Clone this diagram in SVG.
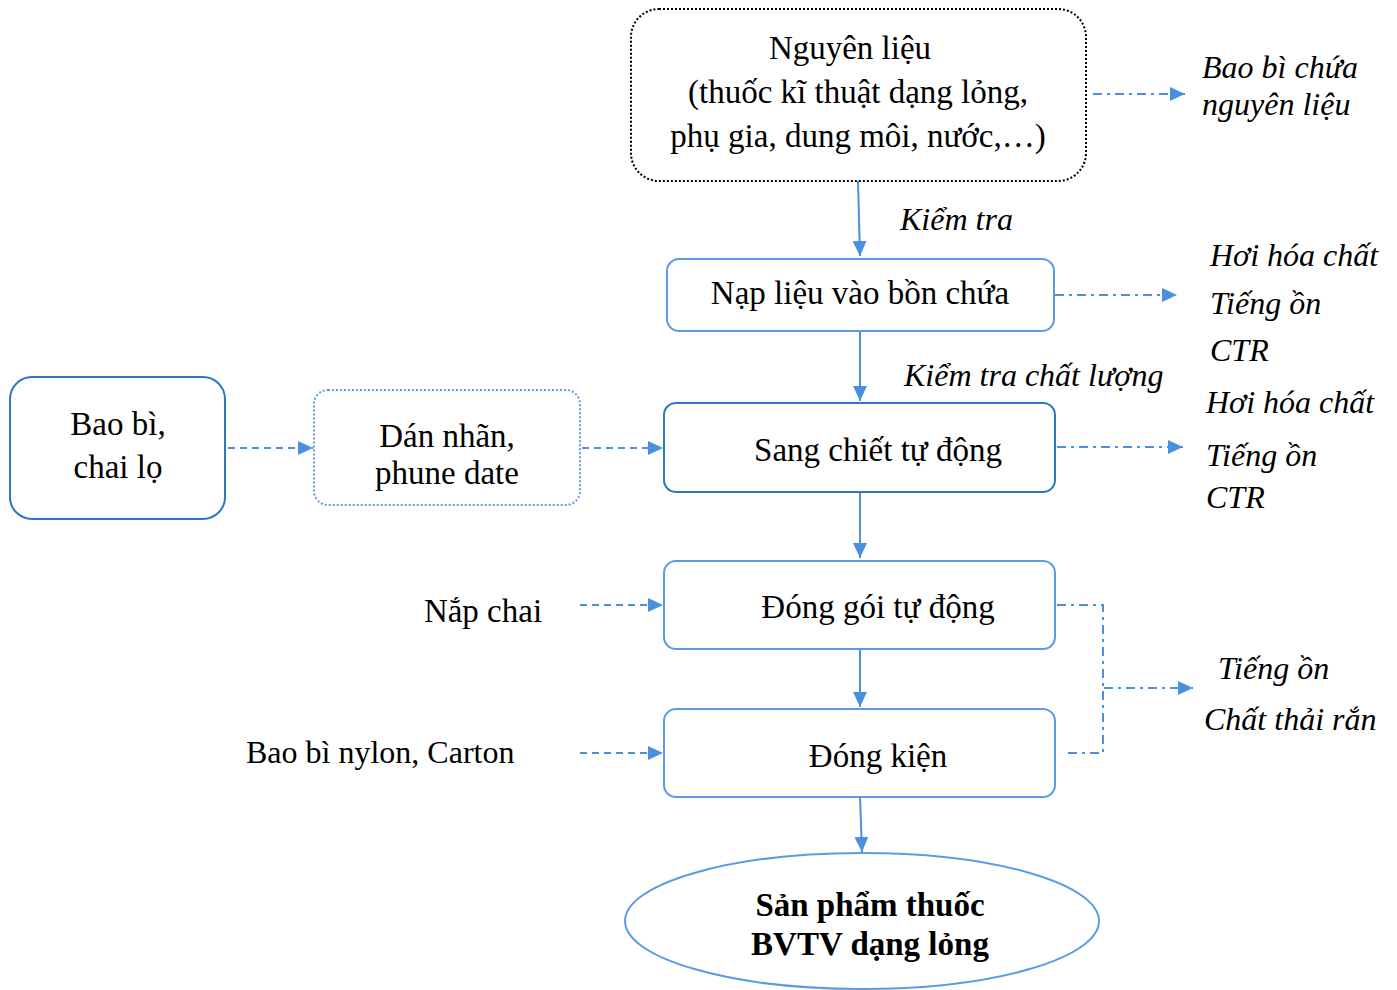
<svg xmlns="http://www.w3.org/2000/svg" width="1397" height="990" viewBox="0 0 1397 990">
<style>
.t{font-family:"Liberation Serif","Times New Roman","DejaVu Serif",serif;font-size:33px;fill:#000}
.i{font-style:italic;font-size:32px}
.b{font-weight:bold}
.c{text-anchor:middle}
.box{fill:#fff;stroke:#5B9BE6;stroke-width:2}
.dk{stroke:#2E75C6}
.ln{fill:none;stroke:#4A8FE0;stroke-width:2}
.dash{stroke-dasharray:7 5}
.dd{stroke-dasharray:9 5 3 5}
</style>
<defs>
<marker id="ar" markerUnits="userSpaceOnUse" markerWidth="16" markerHeight="14" refX="15" refY="7" orient="auto">
<path d="M0,0 L15,7 L0,14 Z" fill="#4A8FE0"/>
</marker>
</defs>
<rect width="1397" height="990" fill="#fff"/>
<g id="connectors">
<path class="ln" d="M858,181 L860,256" marker-end="url(#ar)"/>
<path class="ln" d="M860,331 L860,401" marker-end="url(#ar)"/>
<path class="ln" d="M860,492 L860,558" marker-end="url(#ar)"/>
<path class="ln" d="M860,649 L860,707" marker-end="url(#ar)"/>
<path class="ln" d="M860,797 L862,852" marker-end="url(#ar)"/>
<path class="ln dd" d="M1093,94 L1185,94" marker-end="url(#ar)"/>
<path class="ln dd" d="M1055,295 L1177,295" marker-end="url(#ar)"/>
<path class="ln dd" d="M1057,447 L1183,447" marker-end="url(#ar)"/>
<path class="ln dash" d="M228,448 L313,448" marker-end="url(#ar)"/>
<path class="ln dash" d="M582,448 L663,448" marker-end="url(#ar)"/>
<path class="ln dash" d="M580,605 L663,605" marker-end="url(#ar)"/>
<path class="ln dash" d="M580,753 L663,753" marker-end="url(#ar)"/>
<path class="ln dd" d="M1057,605 L1103,605 L1103,753 L1063,753"/>
<path class="ln dd" d="M1104,688 L1193,688" marker-end="url(#ar)"/>
</g>
<g id="n-nguyenlieu">
<rect x="631" y="9" width="455" height="172" rx="28" fill="#fff" stroke="#000" stroke-width="2" stroke-dasharray="2 2"/>
<text class="t c" x="850" y="59">Nguyên liệu</text>
<text class="t c" x="858" y="103">(thuốc kĩ thuật dạng lỏng,</text>
<text class="t c" x="858" y="147">phụ gia, dung môi, nước,…)</text>
</g>
<g id="n-baobichua">
<text class="t i" x="1202" y="78">Bao bì chứa</text>
<text class="t i" x="1202" y="115">nguyên liệu</text>
</g>
<g id="l-kiemtra"><text class="t i" x="900" y="230">Kiểm tra</text></g>
<g id="n-naplieu">
<rect class="box" x="667" y="259" width="387" height="72" rx="12"/>
<text class="t c" x="860" y="304">Nạp liệu vào bồn chứa</text>
</g>
<g id="e-naplieu">
<text class="t i" x="1210" y="266">Hơi hóa chất</text>
<text class="t i" x="1210" y="314">Tiếng ồn</text>
<text class="t i" x="1210" y="361">CTR</text>
</g>
<g id="l-kiemtracl"><text class="t i" x="904" y="386">Kiểm tra chất lượng</text></g>
<g id="n-sangchiet">
<rect class="box dk" x="664" y="403" width="391" height="89" rx="12"/>
<text class="t c" x="878" y="461">Sang chiết tự động</text>
</g>
<g id="e-sangchiet">
<text class="t i" x="1206" y="413">Hơi hóa chất</text>
<text class="t i" x="1206" y="466">Tiếng ồn</text>
<text class="t i" x="1206" y="508">CTR</text>
</g>
<g id="n-baobi">
<rect class="box dk" x="10" y="377" width="215" height="142" rx="22"/>
<text class="t c" x="118" y="435">Bao bì,</text>
<text class="t c" x="118" y="478">chai lọ</text>
</g>
<g id="n-dannhan">
<rect x="314" y="390" width="266" height="115" rx="14" fill="#fff" stroke="#5B9BE6" stroke-width="2" stroke-dasharray="2 2"/>
<text class="t c" x="447" y="447">Dán nhãn,</text>
<text class="t c" x="447" y="484">phune date</text>
</g>
<g id="n-donggoi">
<rect class="box" x="664" y="561" width="391" height="88" rx="12"/>
<text class="t c" x="878" y="618">Đóng gói tự động</text>
</g>
<g id="n-napchai"><text class="t c" x="483" y="622">Nắp chai</text></g>
<g id="n-dongkien">
<rect class="box" x="664" y="709" width="391" height="88" rx="12"/>
<text class="t c" x="878" y="767">Đóng kiện</text>
</g>
<g id="n-nylon"><text class="t" x="246" y="763" style="font-size:32px">Bao bì nylon, Carton</text></g>
<g id="e-dong">
<text class="t i" x="1218" y="679">Tiếng ồn</text>
<text class="t i" x="1204" y="730">Chất thải rắn</text>
</g>
<g id="n-sanpham">
<ellipse cx="862" cy="921" rx="237" ry="68" fill="#fff" stroke="#5B9BE6" stroke-width="2"/>
<text class="t b c" x="870" y="916">Sản phẩm thuốc</text>
<text class="t b c" x="870" y="955">BVTV dạng lỏng</text>
</g>
</svg>
